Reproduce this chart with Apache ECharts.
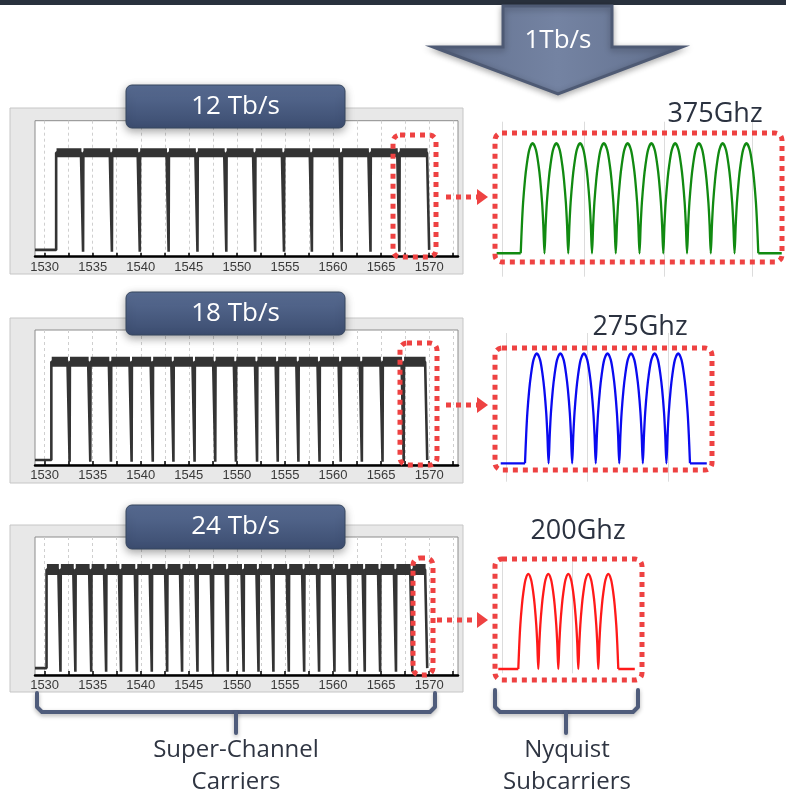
<!DOCTYPE html>
<html><head><meta charset="utf-8">
<script src="https://cdn.jsdelivr.net/npm/echarts@6/dist/echarts.min.js"></script>
<style>html,body{margin:0;padding:0;background:#fff}#c{width:786px;height:797px}</style>
</head><body><div id="c"></div><script>
// ---------------- data ----------------
const wlLabels = [1530,1535,1540,1545,1550,1555,1560,1565,1570];
const wlTicks = [1530,1532.5,1535,1537.5,1540,1542.5,1545,1547.5,1550,1552.5,1555,1557.5,1560,1562.5,1565,1567.5,1570,1572.5];
const panelTitles = ['12 Tb/s','18 Tb/s','24 Tb/s'];
// carrier boundaries (nm): first rise, each dip, last fall
const edges12 = [1531.2,1534.0,1537.0,1539.9,1542.9,1545.9,1548.9,1551.9,1554.9,1557.8,1560.9,1563.9,1566.9,1570.0];
const edges18 = [1530.7,1532.6,1534.75,1536.9,1539.05,1541.25,1543.4,1545.6,1547.75,1549.9,1552.1,1554.25,1556.4,1558.6,1560.8,1563.0,1565.15,1567.35,1569.8];
const edges24 = [1530.2,1531.65,1533.2,1534.85,1536.4,1537.95,1539.6,1541.15,1542.75,1544.3,1545.9,1547.5,1549.05,1550.7,1552.25,1553.8,1555.4,1557.0,1558.55,1560.15,1561.75,1563.3,1564.9,1566.55,1568.25,1569.8];
// levels (relative power): floor, dip bottom, top of carrier band
const floorLevels = [0.05, 0.037, 0.05];
const dipLevels = [0.037, 0.024, 0.024];
const topLevel = 0.765;
// Nyquist subcarriers: edges in GHz, and floor extents
const ghzLabels = ['375Ghz','275Ghz','200Ghz'];
const nyq375 = [0,37.5,75,112.5,150,187.5,225,262.5,300,337.5,375];
const nyq275 = [0,39.3,78.6,117.9,157.1,196.4,235.7,275];
const nyq200 = [0,40,80,120,160,200];
const floor375 = [-38,412];
const floor275 = [-40.5,303];
const floor200 = [-40,233];
// one subcarrier lobe (fraction of width -> level)
const lobePos = [0,0.05,0.1,0.18,0.25,0.36,0.5,0.64,0.75,0.82,0.9,0.95,1];
const lobeVal = [0,0.26,0.46,0.67,0.8,0.94,1,0.94,0.8,0.67,0.46,0.26,0];
const bottomTexts = [['Super-Channel','Carriers'],['Nyquist','Subcarriers']];

// ---------------- builders ----------------
function traceData(edges, floor, dip) {
  const d = [[1529, floor], [edges[0], floor], [edges[0], topLevel]];
  for (let i = 1; i < edges.length; i++) {
    const e = edges[i];
    d.push([e - 0.22, topLevel]);
    if (i < edges.length - 1) { d.push([e, dip]); d.push([e + 0.03, topLevel]); }
    else { d.push([e, floor]); }
  }
  return d;
}
function bandData(edges) {
  const d = [];
  for (let i = 0; i < edges.length - 1; i++) {
    d.push([edges[i] + 0.04, topLevel]);
    d.push([edges[i+1] - 0.17, topLevel]);
    d.push([edges[i+1], '-']);
  }
  return d;
}
function lobeData(edges) {
  const d = [];
  for (let i = 0; i < edges.length - 1; i++) {
    const a = edges[i], w = edges[i+1] - a;
    lobePos.forEach((p, k) => { if (i > 0 && k === 0) return; d.push([a + p * w, lobeVal[k]]); });
  }
  return d;
}
function floorData(edges, ext) {
  return [[ext[0], 0], [edges[0], 0], [edges[0], '-'], [edges[edges.length-1], 0], [ext[1], 0]];
}

const leftTops = [120.7, 330, 537];
const leftHeights = [136, 135, 138];
const bandWidths = [9, 10, 11];
const edgeSets = [edges12, edges18, edges24];

const grids = [], xAxes = [], yAxes = [], series = [];
for (let i = 0; i < 3; i++) {
  grids.push({left: 35, top: leftTops[i], width: 423, height: leftHeights[i], show: true,
    backgroundColor: '#fff', borderColor: '#8c8c8c', borderWidth: 1, z: 1});
  xAxes.push({type: 'value', gridIndex: i, min: 1529, max: 1573, z: 2,
    axisLine: {show: true, onZero: false, lineStyle: {color: '#000', width: 2.5}},
    axisTick: {show: true, inside: true, length: 4, customValues: wlTicks, lineStyle: {color: '#000', width: 1.5}},
    axisLabel: {show: true, customValues: wlLabels, margin: 4, color: '#3a3a3a', fontSize: 13, fontFamily: 'Liberation Sans',
      formatter: v => String(v)},
    splitLine: {show: true, lineStyle: {color: '#cfcfcf', type: [3, 3], width: 1}}});
  yAxes.push({type: 'value', gridIndex: i, min: 0, max: 1, show: false, splitLine: {show: false}});
  series.push({type: 'line', xAxisIndex: i, yAxisIndex: i, data: traceData(edgeSets[i], floorLevels[i], dipLevels[i]),
    symbol: 'none', lineStyle: {color: '#343434', width: 2.6}, z: 3, silent: true});
  series.push({type: 'line', xAxisIndex: i, yAxisIndex: i, data: bandData(edgeSets[i]), connectNulls: false,
    symbol: 'none', lineStyle: {color: '#333', width: bandWidths[i], cap: 'butt'}, z: 4, silent: true});
}
// right (Nyquist) panels
const rightCfg = [
  {top: 121.7, height: 155, width: 287, min: -40.6, max: 412.4, ymin: -0.213, ymax: 1.196, edges: nyq375, floor: floor375, color: '#118a11', grid: [-28.4, 99.9, 226.6, 366.2]},
  {top: 333, height: 148.7, width: 217, min: -50, max: 311.7, ymin: -0.167, ymax: 1.1845, edges: nyq275, floor: floor275, color: '#0a0af0', grid: [-30.5, 104.5, 238.8]},
  {top: 561.7, height: 111.6, width: 147, min: -46.6, max: 247.4, ymin: -0.045, ymax: 1.1295, edges: nyq200, floor: floor200, color: '#ff1a1a', grid: [-31.2, 108.8]}
];
rightCfg.forEach((c, j) => {
  const gi = 3 + j;
  grids.push({left: 495, top: c.top, width: c.width, height: c.height, show: false});
  xAxes.push({type: 'value', gridIndex: gi, min: c.min, max: c.max,
    axisLine: {show: false}, axisLabel: {show: false},
    axisTick: {show: false, customValues: c.grid},
    splitLine: {show: true, lineStyle: {color: '#dcdcdc', width: 1}}});
  yAxes.push({type: 'value', gridIndex: gi, min: c.ymin, max: c.ymax, show: false, splitLine: {show: false}});
  series.push({type: 'line', xAxisIndex: gi, yAxisIndex: gi, data: lobeData(c.edges), smooth: 0.3,
    symbol: 'none', lineStyle: {color: c.color, width: 2.3}, z: 3, silent: true});
  series.push({type: 'line', xAxisIndex: gi, yAxisIndex: gi, data: floorData(c.edges, c.floor), connectNulls: false,
    symbol: 'none', lineStyle: {color: c.color, width: 2.3}, z: 3, silent: true});
});

// ---------------- decorations ----------------
const FONT = '"Open Sans", "Noto Sans", sans-serif';
const red = '#ee4242';
const g = [];
g.push({type: 'rect', shape: {x: 0, y: 0, width: 786, height: 5}, style: {fill: '#29313d'}, z: 50});
g.push({type: 'polygon', shape: {points: [[503,6],[612,6],[612,47],[682,47],[558,94],[433,47],[503,47]]},
  style: {fill: {type: 'linear', x: 0, y: 0, x2: 1, y2: 0, colorStops: [{offset: 0, color: '#62708e'}, {offset: 0.5, color: '#7483a2'}, {offset: 1, color: '#62708e'}]},
    stroke: '#4e5a74', lineWidth: 3, shadowBlur: 6, shadowColor: 'rgba(0,0,0,0.3)', shadowOffsetY: 2}, z: 50});
g.push({type: 'text', style: {text: '1Tb/s', x: 558, y: 41, fill: '#fff', font: '26px ' + FONT, textAlign: 'center', textVerticalAlign: 'middle', align: 'center', verticalAlign: 'middle'}, z: 51});

const bgs = [[10,108,453,166],[10,318,453,165],[10,525,453,167]];
bgs.forEach(b => g.push({type: 'rect', shape: {x: b[0], y: b[1], width: b[2], height: b[3]}, style: {fill: '#e8e8e8', stroke: '#c6c6c6', lineWidth: 1}, z: -1}));

const titleBoxes = [[126,85,219,43],[126,292,219,43],[126,505,219,44]];
titleBoxes.forEach((b, i) => {
  g.push({type: 'rect', shape: {x: b[0], y: b[1], width: b[2], height: b[3], r: 6},
    style: {fill: {type: 'linear', x: 0, y: 0, x2: 0, y2: 1, colorStops: [{offset: 0, color: '#596d94'}, {offset: 1, color: '#3c4d70'}]},
      stroke: '#36465f', lineWidth: 1, shadowBlur: 8, shadowColor: 'rgba(0,0,0,0.35)', shadowOffsetY: 3}, z: 60});
  g.push({type: 'text', style: {text: panelTitles[i], x: b[0] + b[2] / 2, y: b[1] + b[3] / 2, fill: '#fff', font: '26px ' + FONT,
    textAlign: 'center', textVerticalAlign: 'middle', align: 'center', verticalAlign: 'middle'}, z: 61});
});

const dotted = {stroke: red, lineWidth: 5, lineDash: [5, 5], fill: null};
const leftBoxes = [[393,135,43,122],[400,343,37,122],[413,558,20,117]];
const rightBoxes = [[495,133,287,129],[495,348,217,122],[495,559,147,121]];
leftBoxes.concat(rightBoxes).forEach(b => g.push({type: 'rect', shape: {x: b[0], y: b[1], width: b[2], height: b[3], r: 7}, style: Object.assign({}, dotted), z: 70}));

const conns = [[446,197],[446,405],[437,620]];
conns.forEach(c => {
  g.push({type: 'line', shape: {x1: c[0], y1: c[1], x2: 478, y2: c[1]}, style: {stroke: red, lineWidth: 5, lineDash: [5, 5]}, z: 70});
  g.push({type: 'polygon', shape: {points: [[477, c[1] - 8], [488, c[1]], [477, c[1] + 8]]}, style: {fill: red}, z: 70});
});

const ghzPos = [[715,114],[640,327],[578,531]];
ghzPos.forEach((p, i) => g.push({type: 'text', style: {text: ghzLabels[i], x: p[0], y: p[1], fill: '#2b3240', font: '27px ' + FONT,
  textAlign: 'center', textVerticalAlign: 'middle', align: 'center', verticalAlign: 'middle'}, z: 80}));

const braceStyle = {stroke: '#4f5c7b', lineWidth: 4, fill: null, lineJoin: 'round', lineCap: 'round', shadowBlur: 4, shadowColor: 'rgba(0,0,0,0.3)', shadowOffsetY: 2};
g.push({type: 'polyline', shape: {points: [[37,693],[37,707],[42,712],[430,712],[435,707],[435,693]]}, style: Object.assign({}, braceStyle), z: 40});
g.push({type: 'polyline', shape: {points: [[236,712],[236,733]]}, style: Object.assign({}, braceStyle), z: 40});
g.push({type: 'polyline', shape: {points: [[495,690],[495,707],[500,712],[633,712],[638,707],[638,690]]}, style: Object.assign({}, braceStyle), z: 40});
g.push({type: 'polyline', shape: {points: [[566,712],[566,733]]}, style: Object.assign({}, braceStyle), z: 40});

bottomTexts.forEach((lines, i) => {
  const cx = i === 0 ? 236 : 567;
  lines.forEach((t, k) => g.push({type: 'text', style: {text: t, x: cx, y: 750 + k * 32, fill: '#2f3542', font: '24px ' + FONT,
    textAlign: 'center', textVerticalAlign: 'middle', align: 'center', verticalAlign: 'middle'}, z: 80}));
});

const chart = echarts.init(document.getElementById('c'), null, {renderer: 'canvas'});
chart.setOption({
  animation: false,
  backgroundColor: '#fff',
  grid: grids, xAxis: xAxes, yAxis: yAxes, series: series,
  graphic: {elements: g}
});
</script></body></html>
